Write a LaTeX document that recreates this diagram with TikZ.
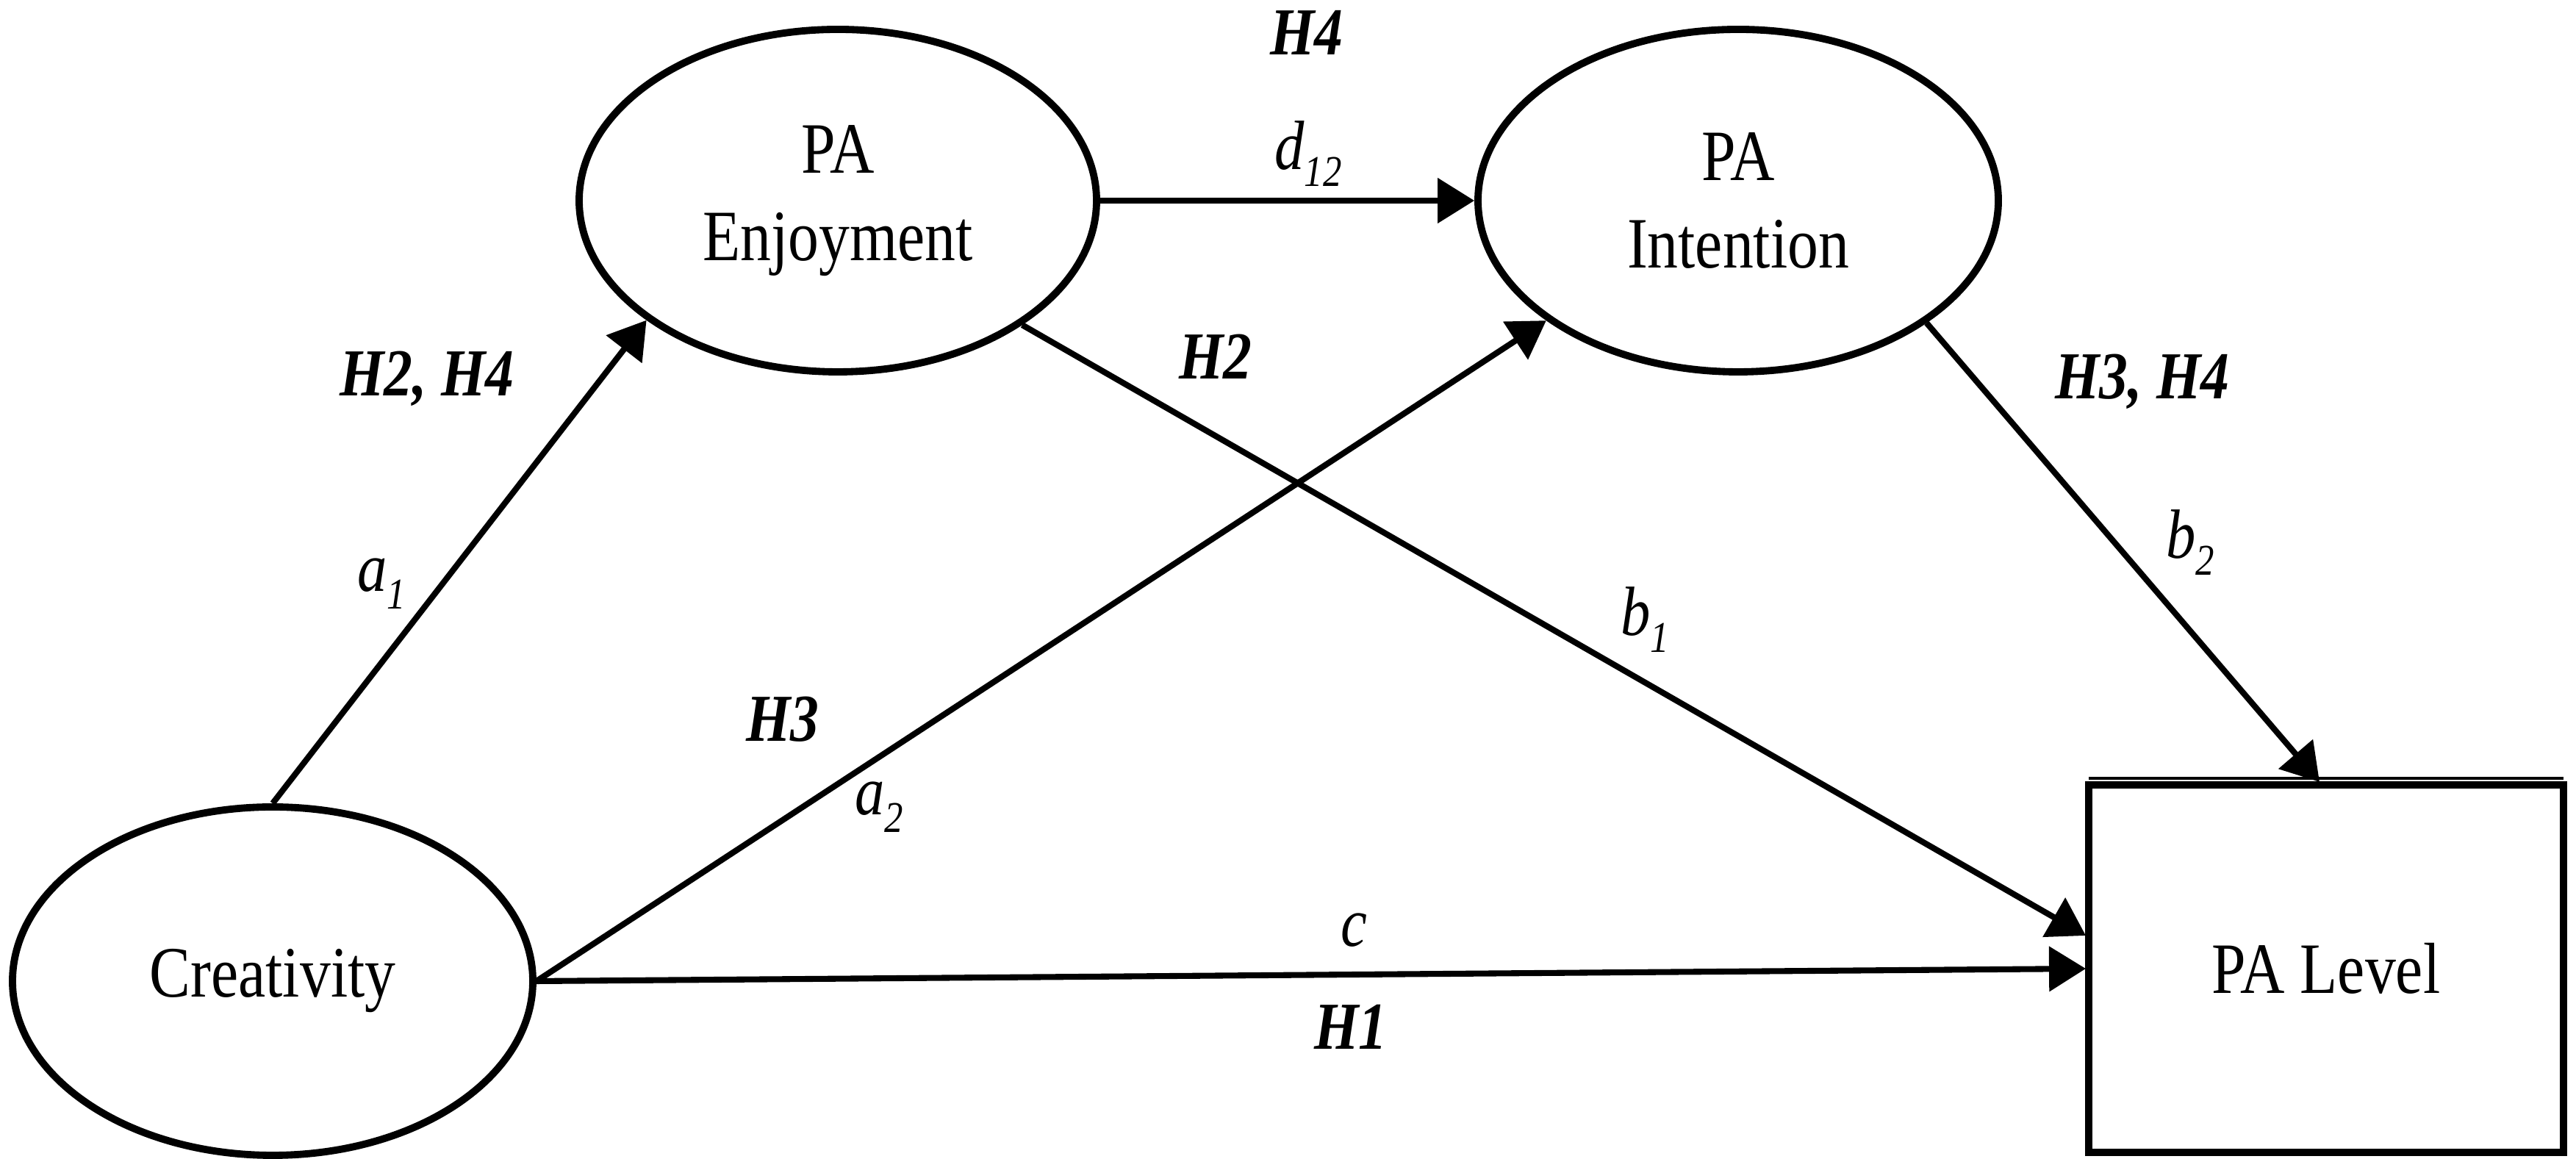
\documentclass[tikz,border=0pt]{standalone}
\usepackage{fontspec}
\setmainfont{Liberation Serif}[FakeStretch=0.85]
\usetikzlibrary{arrows.meta,shapes.geometric,calc}
\newcommand{\sublab}[2]{\textit{#1}\raisebox{-0.25em}{\fontsize{17}{17}\selectfont\textit{#2}}}
\begin{document}
\begin{tikzpicture}[
  latent/.style={ellipse, draw, line width=2.8pt, inner sep=0pt, align=center, font=\fontsize{28}{34}\selectfont},
  observed/.style={rectangle, draw, line width=2.8pt, outer sep=0pt, minimum width=6.46cm, minimum height=5cm, font=\fontsize{28}{34}\selectfont},
  pathline/.style={line width=2.3pt, -{Triangle[length=0.5cm,width=0.6cm]}},
  hyp/.style={font=\fontsize{26}{30}\selectfont\bfseries\itshape, inner sep=0pt},
  coef/.style={font=\fontsize{27}{30}\selectfont, inner sep=0pt}
]
\useasboundingbox (0,0) rectangle (35.05,15.77);
\node[latent, minimum width=7.08cm, minimum height=4.74cm] (cre) at (3.71,2.42) {Creativity};
\node[latent, minimum width=7.04cm, minimum height=4.66cm] (enj) at (11.40,13.04) {PA\\Enjoyment};
\node[latent, minimum width=7.08cm, minimum height=4.66cm] (int) at (23.65,13.04) {PA\\Intention};
\node[observed] (lvl) at (31.65,2.59) {PA Level};
\draw[line width=1.4pt] ($(lvl.north west)+(0,0.09)$) -- ($(lvl.north east)+(0,0.09)$);

\draw[pathline] (cre.north) -- (enj.212.5);
\draw[pathline] (cre.east) -- (int.212.7);
\draw[pathline] (enj.326.8) -- ($(lvl.west)+(-0.04,0.45)$);
\draw[pathline] (int.327.1) -- ($(lvl.north)+(-0.09,0.04)$);
\draw[pathline] (enj.east) -- (int.west);
\draw[pathline] (cre.east) -- ($(lvl.west)+(-0.04,0)$);

\node[hyp] (h4a) at (17.78,15.33) {H4};
\node[coef] (d12) at (17.80,13.68) {\sublab{d}{12}};
\node[hyp] (h24) at (5.81,10.62) {H2, H4};
\node[hyp] (h2) at (16.54,10.92) {H2};
\node[hyp] (h34) at (29.15,10.58) {H3, H4};
\node[coef] (a1) at (5.19,7.83) {\sublab{a}{1}};
\node[coef] (b1) at (22.38,7.34) {\sublab{b}{1}};
\node[coef] (b2) at (29.80,8.39) {\sublab{b}{2}};
\node[hyp] (h3) at (10.65,5.98) {H3};
\node[coef] (a2) at (11.96,4.79) {\sublab{a}{2}};
\node[coef] (c) at (18.42,3.11) {\textit{c}};
\node[hyp] (h1) at (18.38,1.80) {H1};
\end{tikzpicture}
\end{document}
